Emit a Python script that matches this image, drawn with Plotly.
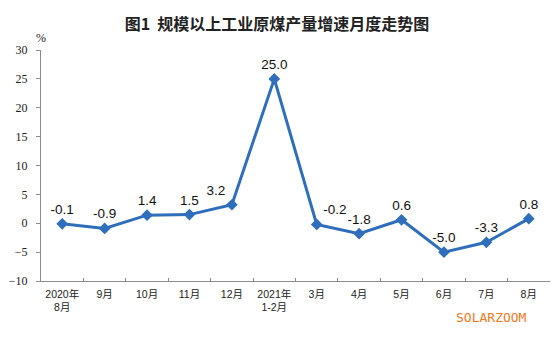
import plotly.graph_objects as go

categories = ["2020年<br>8月", "9月", "10月", "11月", "12月", "2021年<br>1-2月",
              "3月", "4月", "5月", "6月", "7月", "8月"]
values = [-0.1, -0.9, 1.4, 1.5, 3.2, 25.0, -0.2, -1.8, 0.6, -5.0, -3.3, 0.8]
labels = ["-0.1", "-0.9", "1.4", "1.5", "3.2", "25.0", "-0.2", "-1.8", "0.6", "-5.0", "-3.3", "0.8"]
label_pos = ["top center", "top center", "top center", "top center", "top left", "top center",
             "top right", "top center", "top center", "top center", "top center", "top center"]
y_ticks = [-10, -5, 0, 5, 10, 15, 20, 25, 30]

blue = "#2F6EBA"

fig = go.Figure()
fig.add_trace(go.Scatter(
    x=categories, y=values, mode="lines+markers+text",
    line=dict(color=blue, width=3),
    marker=dict(symbol="diamond", size=9, color=blue),
    text=labels, textposition=label_pos,
    textfont=dict(family="Liberation Sans, Arial", size=13.5, color="#111"),
    cliponaxis=False, showlegend=False,
))

fig.update_layout(
    width=554, height=352,
    margin=dict(l=41, r=4, t=50, b=71),
    paper_bgcolor="white", plot_bgcolor="white",
    title=dict(text="<b>图1  规模以上工业原煤产量增速月度走势图</b>",
               x=0.5, xanchor="center", y=1 - 24 / 352, yanchor="middle",
               font=dict(family="Noto Sans CJK SC", size=16, color="#222")),
    xaxis=dict(type="category", range=[-0.5, len(categories) - 0.5],
               showline=True, linecolor="#8c8c8c", linewidth=1,
               ticks="inside", tickson="boundaries", ticklen=3, tickcolor="#8c8c8c",
               showgrid=False, zeroline=False, tickangle=0, automargin=False,
               ticklabelstandoff=3,
               tickfont=dict(family="Liberation Sans, Noto Sans CJK SC", size=10.5, color="#222")),
    yaxis=dict(range=[-10, 30], tickvals=y_ticks, showline=True, linecolor="#8c8c8c",
               linewidth=1, ticks="outside", ticklen=4, tickcolor="#8c8c8c",
               showgrid=False, zeroline=False, automargin=False,
               ticklabelstandoff=6,
               tickfont=dict(family="Liberation Serif", size=12, color="#222")),
    annotations=[
        dict(text="%", xref="paper", yref="paper", x=0, y=1, yshift=12,
             xanchor="center", yanchor="middle", showarrow=False,
             font=dict(family="Liberation Serif", size=12, color="#222")),
        dict(text="SOLARZOOM", xref="paper", yref="paper", x=0.885, y=0, yshift=-36,
             xanchor="center", yanchor="middle", showarrow=False,
             font=dict(family="DejaVu Sans Mono", size=13, color="#F07A1E")),
    ],
)

fig.write_html("out.html")
